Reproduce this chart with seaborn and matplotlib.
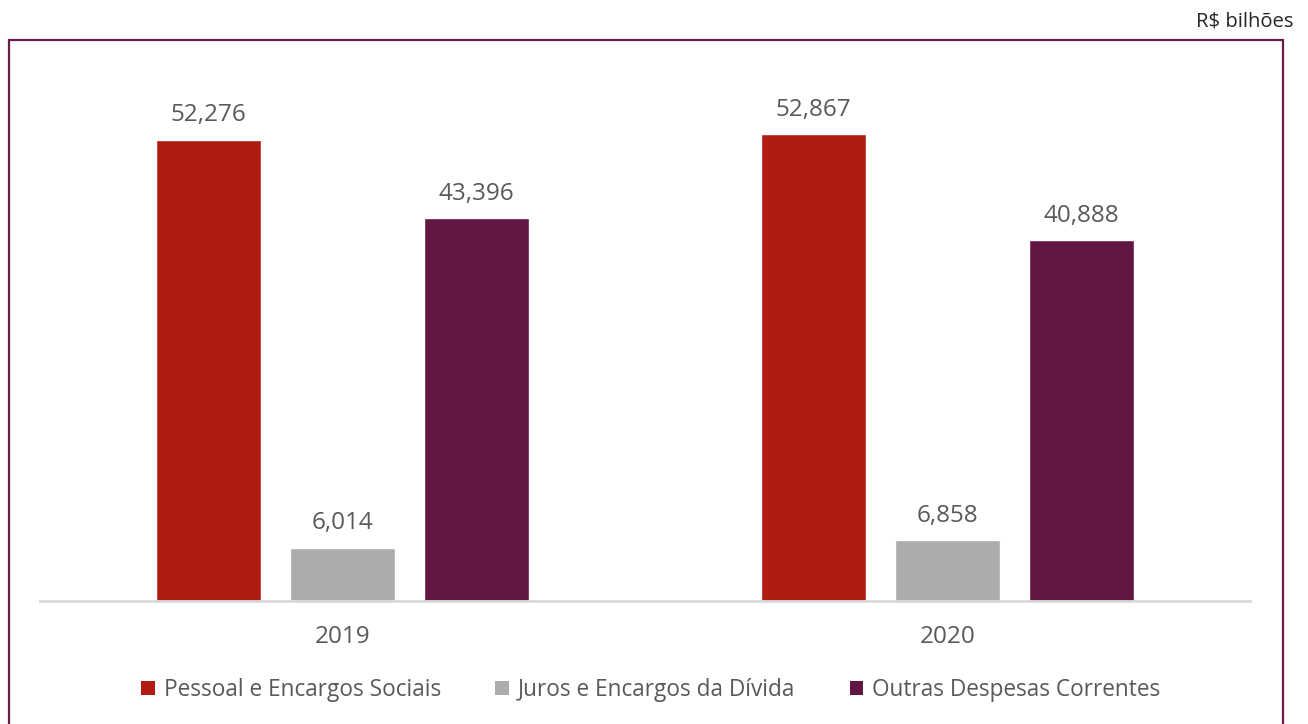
import matplotlib
matplotlib.use("Agg")
import matplotlib.pyplot as plt
import seaborn as sns
import pandas as pd
from matplotlib.patches import Rectangle, Patch

years = ["2019", "2020"]
categories = ["Pessoal e Encargos Sociais", "Juros e Encargos da Dívida", "Outras Despesas Correntes"]
pessoal = [52.276, 52.867]
juros = [6.014, 6.858]
outras = [43.396, 40.888]
colors = ["#B11C12", "#ABABAB", "#621642"]
unit_label = "R$ bilhões"

rows = []
for i, y in enumerate(years):
    for cat, vals in zip(categories, [pessoal, juros, outras]):
        rows.append({"ano": y, "categoria": cat, "valor": vals[i]})
df = pd.DataFrame(rows)

sns.set_theme(style="white")
plt.rcParams["font.family"] = ["Open Sans", "DejaVu Sans"]
txt = "#595959"

fig = plt.figure(figsize=(13.08, 7.24), dpi=100)
ax = fig.add_axes([40/1308, 1-601/724, 1210/1308, 541/724])

sns.barplot(data=df, x="ano", y="valor", hue="categoria", hue_order=categories,
            palette=colors, width=0.666, gap=0.22, saturation=1, ax=ax, legend=False)

ax.set_xlim(-0.5, 1.5)
ax.set_ylim(0, 61.3)
for c in ax.containers:
    ax.bar_label(c, labels=[f"{v:.3f}".replace(".", ",") for v in c.datavalues],
                 padding=9, fontsize=17.5, color=txt)

for s in ["top", "left", "right"]:
    ax.spines[s].set_visible(False)
ax.spines["bottom"].set_color("#D9D9D9")
ax.spines["bottom"].set_linewidth(2)
ax.set_yticks([])
ax.set_xlabel("")
ax.set_ylabel("")
ax.tick_params(axis="x", length=0, pad=17, labelsize=17.5, labelcolor=txt)

handles = [Patch(facecolor=c, edgecolor="none") for c in colors]
fig.legend(handles, categories, loc="center", bbox_to_anchor=(651/1308, 1-690/724),
           ncol=3, frameon=False, fontsize=16.3, labelcolor=txt,
           handlelength=0.6, handleheight=0.6, handletextpad=0.4, columnspacing=2.4)

fig.patches.append(Rectangle((9/1308, -0.05), (1283-9)/1308, 1-40/724+0.05,
                             transform=fig.transFigure, fill=False,
                             edgecolor="#6B1B4A", linewidth=1.6))
fig.text(1293/1308, 1-22/724, unit_label, ha="right", va="center", fontsize=14.6, color="#262626")

fig.savefig("out.png", dpi=100)
